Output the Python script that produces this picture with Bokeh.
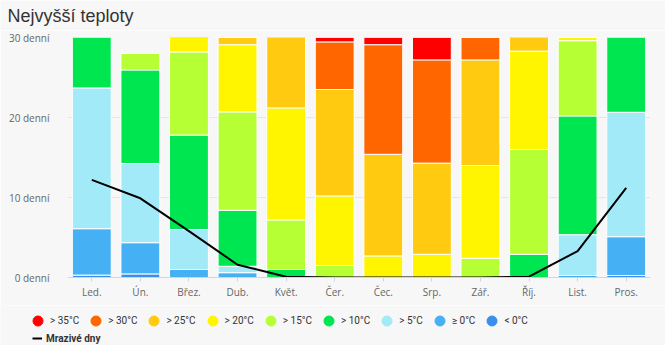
from bokeh.plotting import figure
from bokeh.layouts import column
from bokeh.models import Range1d, FixedTicker, Legend, LegendItem, ColumnDataSource, Label
from bokeh.embed import file_html
from bokeh.resources import INLINE

months = ["Led.", "Ún.", "Břez.", "Dub.", "Květ.", "Čer.", "Čec.", "Srp.", "Zář.", "Říj.", "List.", "Pros."]
below0 = [0.3, 0.45, 0, 0, 0, 0, 0, 0, 0, 0, 0, 0.25]
above0 = [5.8, 3.9, 1.0, 0.6, 0, 0, 0, 0, 0, 0, 0.25, 4.85]
above5 = [17.6, 9.9, 5.0, 0.8, 0, 0, 0, 0, 0, 0, 5.1, 15.55]
above10 = [7.3, 11.7, 11.8, 7.0, 1.0, 0, 0, 0, 0, 2.9, 14.85, 10.35]
above15 = [0, 2.05, 10.4, 12.3, 6.2, 1.5, 0, 0, 2.4, 13.1, 9.4, 0]
above20 = [0, 0, 2.8, 8.4, 14.0, 8.7, 2.7, 2.9, 11.6, 12.3, 0.4, 0]
above25 = [0, 0, 0, 0.9, 9.8, 13.3, 12.7, 11.4, 13.2, 2.7, 0, 0]
above30 = [0, 0, 0, 0, 0, 5.95, 13.7, 12.9, 2.8, 0, 0, 0]
above35 = [0, 0, 0, 0, 0, 0.55, 1.9, 3.8, 0, 0, 0, 0]
frost_days = [12.2, 9.9, 5.8, 1.6, 0.1, 0, 0, 0, 0, 0.1, 3.3, 11.2]

series_keys = ["below0", "above0", "above5", "above10", "above15", "above20", "above25", "above30", "above35"]
series_labels = ["< 0°C", "≥ 0°C", "> 5°C", "> 10°C", "> 15°C", "> 20°C", "> 25°C", "> 30°C", "> 35°C"]
series_colors = ["#3a8fec", "#46b0f5", "#a2eaf7", "#00e650", "#b6ff35", "#fff500", "#ffca10", "#ff6600", "#ff0000"]
y_ticks = [0, 10, 20, 30]
y_tick_labels = ["0 denní", "10 denní", "20 denní", "30 denní"]
title_text = "Nejvyšší teploty"

source = ColumnDataSource(dict(
    months=months, below0=below0, above0=above0, above5=above5, above10=above10,
    above15=above15, above20=above20, above25=above25, above30=above30, above35=above35,
    frost=frost_days))

BG = "#f7f7f7"
FONT = "Open Sans"
LEG_FONT = "Roboto"


def blank_fig(h):
    f = figure(width=665, height=h, x_range=Range1d(0, 665), y_range=Range1d(0, h),
               output_backend="svg", toolbar_location=None, x_axis_type=None, y_axis_type=None,
               min_border=0, frame_align=False)
    f.background_fill_color = BG
    f.border_fill_color = BG
    f.outline_line_color = None
    f.xgrid.visible = False
    f.ygrid.visible = False
    return f


# title figure
tf = blank_fig(30)
tf.add_layout(Label(x=7, y=15, text=title_text, text_font="Liberation Sans", text_font_size="18px",
                    text_color="#333333", text_baseline="alphabetic", text_align="left"))

# main chart
p = figure(x_range=months, y_range=Range1d(0, 30), width=665, height=275,
           output_backend="svg", toolbar_location=None, frame_align=False,
           min_border_left=67, min_border_right=15, min_border_top=7, min_border_bottom=28)
p.background_fill_color = BG
p.border_fill_color = BG
p.outline_line_color = None

bars = p.vbar_stack(series_keys, x="months", width=0.8, source=source,
                    color=series_colors, line_color="white", line_width=1)
line = p.line(x="months", y="frost", source=source, line_color="black", line_width=2)

p.yaxis.ticker = FixedTicker(ticks=y_ticks)
p.yaxis.major_label_overrides = {t: l for t, l in zip(y_ticks, y_tick_labels)}
p.yaxis.axis_line_color = None
p.yaxis.major_tick_line_color = None
p.yaxis.minor_tick_line_color = None
p.yaxis.major_label_standoff = 12
p.yaxis.major_label_text_font = FONT
p.yaxis.major_label_text_font_size = "10px"
p.yaxis.major_label_text_color = "#666666"

p.xaxis.axis_line_color = "#ccd6eb"
p.xaxis.major_tick_line_color = "#ccd6eb"
p.xaxis.major_tick_out = 4
p.xaxis.major_tick_in = 0
p.xaxis.major_label_standoff = 3
p.xaxis.major_label_text_font = FONT
p.xaxis.major_label_text_font_size = "10px"
p.xaxis.major_label_text_color = "#666666"

p.xgrid.grid_line_color = None
p.ygrid.grid_line_color = "#e6e6e6"
p.ygrid.ticker = FixedTicker(ticks=y_ticks)

# legend figure
lf = blank_fig(40)
items = []
for lab, col in zip(series_labels[::-1], series_colors[::-1]):
    r = lf.scatter(x=[-100], y=[-100], marker="circle", size=10, fill_color=col, line_color=col)
    items.append(LegendItem(label=lab, renderers=[r]))
lr = lf.line(x=[-100, -90], y=[-100, -100], line_color="black", line_width=2)

leg1 = Legend(items=items, orientation="horizontal", location=(25, 12),
              glyph_width=25, glyph_height=25, label_standoff=-4, spacing=4,
              padding=0, margin=0, border_line_alpha=0, background_fill_alpha=0,
              label_text_font=LEG_FONT, label_text_font_size="10px",
              label_text_color="#333333", label_height=12)
leg2 = Legend(items=[LegendItem(label="Mrazivé dny", renderers=[lr])], orientation="horizontal",
              location=(32, 1), glyph_width=10, glyph_height=12, label_standoff=4,
              padding=0, margin=0, border_line_alpha=0, background_fill_alpha=0,
              label_text_font=LEG_FONT, label_text_font_size="10px",
              label_text_font_style="bold", label_text_color="#333333", label_height=12)
lf.add_layout(leg1, "center")
lf.add_layout(leg2, "center")

layout = column(tf, p, lf, spacing=0)
open("out.html", "w").write(file_html(layout, INLINE))
